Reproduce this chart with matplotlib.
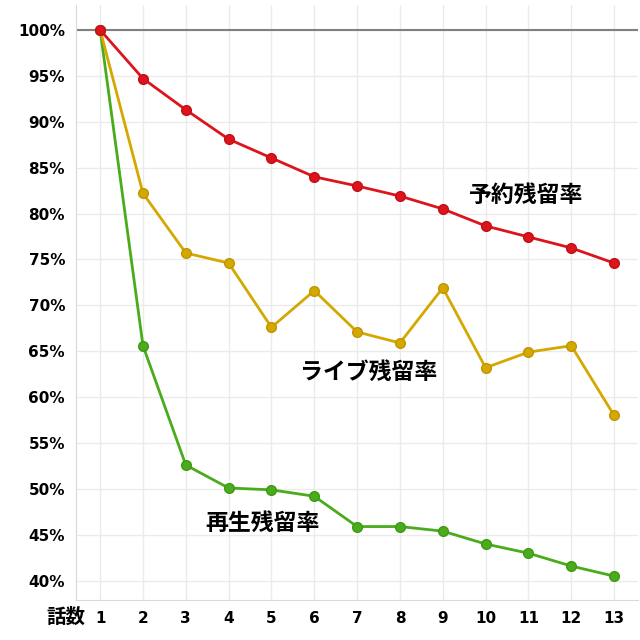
import matplotlib.pyplot as plt
plt.rcParams['font.family'] = ['DejaVu Sans', 'Noto Sans CJK JP']

episodes = list(range(1, 14))
reserve = [100, 94.7, 91.3, 88.1, 86.05, 84.0, 83.0, 81.9, 80.5, 78.65, 77.45, 76.25, 74.6]
live = [100, 82.2, 75.7, 74.6, 67.6, 71.6, 67.1, 65.9, 71.9, 63.2, 64.9, 65.6, 58.0]
replay = [100, 65.6, 52.6, 50.1, 49.9, 49.2, 45.9, 45.9, 45.4, 44.0, 43.0, 41.6, 40.5]
yticks = list(range(40, 101, 5))

fig = plt.figure(figsize=(6.4, 6.4), dpi=100)
ax = fig.add_axes([0.119, 0.0625, 0.878, 0.9295])

ax.axhline(100, color='#808080', lw=1.5, zorder=1)
ax.plot(episodes, replay, color='#4aab1c', lw=2, marker='o', ms=7, mec='#3e9a14', zorder=3)
ax.plot(episodes, live, color='#d4a800', lw=2, marker='o', ms=7, mec='#bf9700', zorder=3)
ax.plot(episodes, reserve, color='#dc141c', lw=2, marker='o', ms=7, mec='#c0101a', zorder=4)

ax.set_xlim(0.44, 13.56)
ax.set_ylim(37.9, 102.7)
ax.set_xticks(episodes)
ax.set_yticks(yticks)
ax.set_yticklabels([f'{v}%' for v in yticks])
ax.tick_params(length=0, labelsize=11, pad=8)
for lab in ax.get_xticklabels() + ax.get_yticklabels():
    lab.set_fontweight('bold')
ax.grid(True, color='#ebebeb', lw=1)
ax.set_axisbelow(True)
for s in ['top', 'right']:
    ax.spines[s].set_visible(False)
for s in ['left', 'bottom']:
    ax.spines[s].set_color('#d9d9d9')

jp = ['Noto Sans CJK JP', 'DejaVu Sans']
ax.text(10.95, 82.0, '予約残留率', family=jp, fontsize=16.5, fontweight='bold', ha='center', va='center')
ax.text(7.28, 62.75, 'ライブ残留率', family=jp, fontsize=16.5, fontweight='bold', ha='center', va='center')
ax.text(4.78, 46.3, '再生残留率', family=jp, fontsize=16.5, fontweight='bold', ha='center', va='center')
fig.text(0.103, 0.035, '話数', family=jp, fontsize=14, fontweight='bold', ha='center', va='center')

fig.savefig('out.png', dpi=100)
